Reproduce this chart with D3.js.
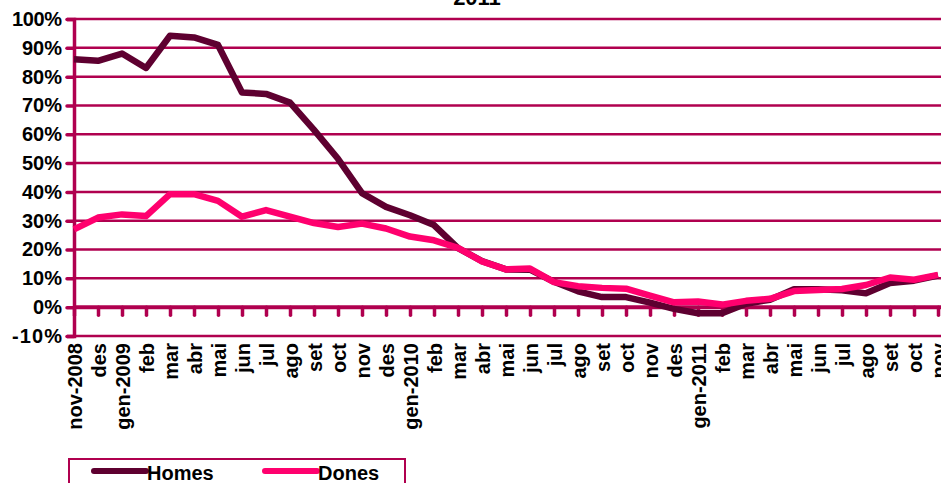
<!DOCTYPE html>
<html>
<head>
<meta charset="utf-8">
<script src="https://cdn.jsdelivr.net/npm/d3@7"></script>
<style>
  body { margin: 0; background: #fff; }
  svg { display: block; font-family: "Liberation Sans", Arial, sans-serif; }
</style>
</head>
<body>
<div id="chart"></div>
<script>
// data
const months = ["nov-2008", "des", "gen-2009", "feb", "mar", "abr", "mai", "jun", "jul", "ago", "set", "oct",
  "nov", "des", "gen-2010", "feb", "mar", "abr", "mai", "jun", "jul", "ago", "set", "oct",
  "nov", "des", "gen-2011", "feb", "mar", "abr", "mai", "jun", "jul", "ago", "set", "oct", "nov"];
const homes = [86, 85.5, 88, 83, 94.2, 93.6, 91, 74.5, 74, 71, 61.5, 51.5,
  39.6, 34.8, 31.9, 28.5, 20.5, 16, 13.1, 13, 8.8, 5.5, 3.5, 3.5,
  1.6, -0.6, -2.1, -2.1, 1.2, 2.6, 6.2, 6.2, 5.9, 4.8, 8.4, 9.2, 11];
const dones = [27, 31.1, 32.2, 31.6, 39.2, 39.2, 36.9, 31.4, 33.7, 31.4, 29.2, 27.8,
  29, 27.3, 24.5, 23.2, 20.6, 15.9, 13.1, 13.4, 8.7, 7.3, 6.7, 6.4,
  4, 1.7, 2, 0.9, 2.2, 2.9, 5.6, 6, 6.3, 7.7, 10.3, 9.5, 11.2];
const yTicks = [-10, 0, 10, 20, 30, 40, 50, 60, 70, 80, 90, 100];
const seriesNames = ["Homes", "Dones"];

const W = 941, H = 483;
const GRID = "#b0004f";
const colors = { Homes: "#5e0030", Dones: "#ff006e" };
const FONT = "Liberation Sans, Arial, sans-serif";

const svg = d3.select("#chart").append("svg")
  .attr("width", W).attr("height", H);

// scales
const x = d3.scalePoint()
  .domain(d3.range(months.length))
  .range([74, 938]);
const y = d3.scaleLinear()
  .domain([-10, 100])
  .range([336, 19]);

// title (mostly cut off at top)
svg.append("text")
  .attr("x", 477).attr("y", 5)
  .attr("text-anchor", "middle")
  .attr("font-size", 22).attr("font-weight", "bold")
  .text("2011");

// gridlines
svg.append("g")
  .selectAll("line")
  .data(yTicks.filter(d => d !== 0))
  .join("line")
  .attr("x1", 74).attr("x2", W)
  .attr("y1", d => y(d)).attr("y2", d => y(d))
  .attr("stroke", GRID).attr("stroke-width", 2.5);

// y axis
const yAxis = svg.append("g")
  .attr("transform", "translate(74,0)")
  .call(d3.axisLeft(y).tickValues(yTicks).tickFormat(d => d + "%").tickSize(7).tickPadding(5));
yAxis.select(".domain").attr("stroke", GRID).attr("stroke-width", 3.5);
yAxis.selectAll(".tick line").attr("stroke", GRID).attr("stroke-width", 3.5).attr("stroke-linecap", "round");
yAxis.selectAll(".tick text")
  .attr("fill", "#000").attr("font-size", 20).attr("font-weight", "bold")
  .attr("font-family", FONT)
  .attr("textLength", d => (d === 100 || d === -10) ? 50 : null);

// x axis along 0%
const xAxis = svg.append("g")
  .attr("transform", `translate(0,${y(0)})`)
  .call(d3.axisBottom(x).tickSize(8).tickFormat(i => months[i]).tickSizeOuter(0));
xAxis.select(".domain").attr("stroke", GRID).attr("stroke-width", 4)
  .attr("d", `M74,0H${W}`);
xAxis.selectAll(".tick line").attr("stroke", GRID).attr("stroke-width", 3.5).attr("stroke-linecap", "round");
xAxis.selectAll(".tick text")
  .attr("fill", "#000").attr("font-size", 20).attr("font-weight", "bold")
  .attr("font-family", FONT)
  .attr("text-anchor", "end")
  .attr("transform", `translate(0,${y(-10) - y(0) + 7}) rotate(-90)`)
  .attr("x", 0).attr("y", 0).attr("dy", "0.35em");

// lines
const line = d3.line()
  .x((d, i) => x(i))
  .y(d => y(d));
svg.append("g")
  .selectAll("path")
  .data([["Homes", homes], ["Dones", dones]])
  .join("path")
  .attr("fill", "none")
  .attr("stroke", d => colors[d[0]])
  .attr("stroke-width", 6.5)
  .attr("stroke-linejoin", "round")
  .attr("d", d => line(d[1]));

// legend
const legend = svg.append("g");
legend.append("rect")
  .attr("x", 69).attr("y", 459)
  .attr("width", 336).attr("height", 40)
  .attr("fill", "#fff").attr("stroke", GRID).attr("stroke-width", 2);
const item = legend.selectAll("g")
  .data(seriesNames)
  .join("g")
  .attr("transform", (d, i) => `translate(${94 + i * 171},0)`);
item.append("line")
  .attr("x1", 0).attr("x2", 52)
  .attr("y1", 471).attr("y2", 471)
  .attr("stroke", d => colors[d]).attr("stroke-width", 6)
  .attr("stroke-linecap", "round");
item.append("text")
  .attr("x", 53).attr("y", 480)
  .attr("font-size", 20).attr("font-weight", "bold")
  .text(d => d);
</script>
</body>
</html>
